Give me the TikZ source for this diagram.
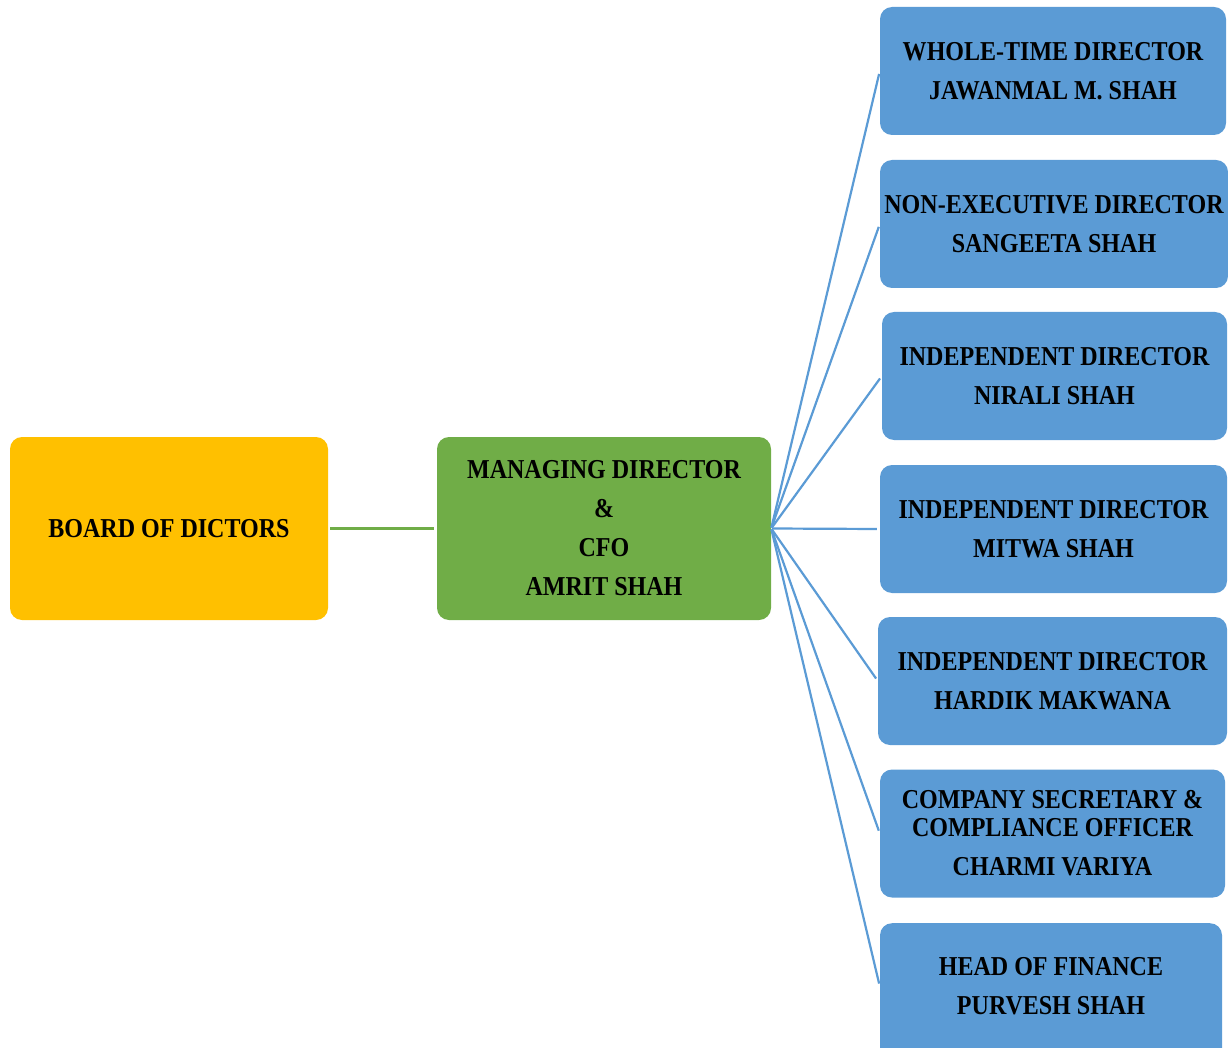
\documentclass[tikz,border=0pt]{standalone}
\usepackage{fontspec}
\newfontfamily\boxfont{Liberation Serif}[FakeStretch=0.88]
\definecolor{gold}{HTML}{FFC000}
\definecolor{leaf}{HTML}{70AD47}
\definecolor{sky}{HTML}{5B9BD5}
\tikzset{
  x=1pt, y=-1pt,
  basebox/.style={rounded corners=12pt, inner sep=0pt, align=center,
    font=\boxfont\bfseries\fontsize{27.3}{39}\selectfont, text=black},
  goldbox/.style={basebox, fill=gold, minimum width=318pt, minimum height=183pt},
  leafbox/.style={basebox, fill=leaf, minimum width=334pt, minimum height=183pt},
  skybox/.style={basebox, fill=sky, minimum height=128pt},
  plaintext/.style={inner sep=0pt, align=center,
    font=\boxfont\bfseries\fontsize{27.3}{39}\selectfont, text=black},
  greenlink/.style={draw=leaf, line width=2.2pt},
  bluelink/.style={draw=sky, line width=2.2pt, shorten <=1pt, shorten >=3pt},
}
\begin{document}
\begin{tikzpicture}
\useasboundingbox (0,0) rectangle (1228,1048);
\node[goldbox] (board) at (169,528.5) {BOARD OF DICTORS};
\node[leafbox] (md) at (604,528.5) {MANAGING DIRECTOR\\\&\\CFO\\AMRIT SHAH};
\node[skybox, minimum width=346pt] (b1) at (1053,71) {WHOLE-TIME DIRECTOR\\JAWANMAL M. SHAH};
\node[skybox, minimum width=348pt] (b2) at (1054,224) {NON-EXECUTIVE DIRECTOR\\SANGEETA SHAH};
\node[skybox, minimum width=345pt] (b3) at (1054.5,376) {INDEPENDENT DIRECTOR\\NIRALI SHAH};
\node[skybox, minimum width=347pt] (b4) at (1053.5,529) {INDEPENDENT DIRECTOR\\MITWA SHAH};
\node[skybox, minimum width=349pt] (b5) at (1052.5,681) {INDEPENDENT DIRECTOR\\HARDIK MAKWANA};
\node[skybox, minimum width=345pt] (b6) at (1052.5,833.5) {COMPANY SECRETARY \&\\[-11pt]COMPLIANCE OFFICER\\CHARMI VARIYA};
\node[skybox, minimum width=342pt, minimum height=150pt, anchor=north] (b7) at (1051,923) {};
\node[plaintext] (b7t) at (1051,986.5) {HEAD OF FINANCE\\PURVESH SHAH};
\draw[greenlink] ([xshift=2pt]board.east) -- ([xshift=-3pt]md.west);
\foreach \b in {b1,b2,b3,b4,b5,b6}{
  \draw[bluelink] (md.east) -- (\b.west);
}
\draw[bluelink] (md.east) -- (b7t -| b7.west);
\end{tikzpicture}
\end{document}
